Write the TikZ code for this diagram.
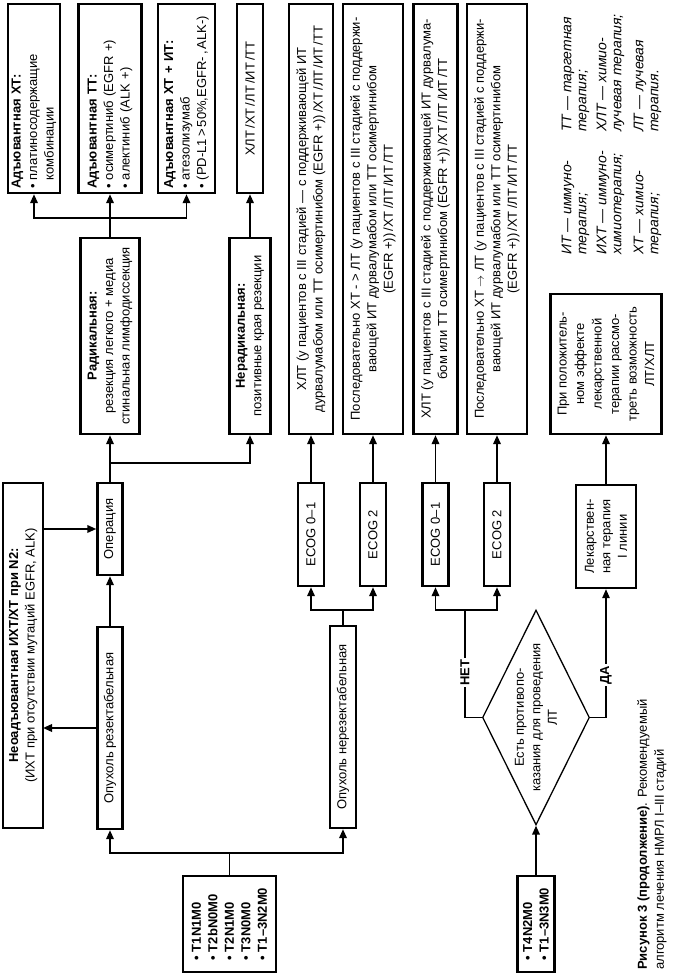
\documentclass[tikz,border=0pt]{standalone}
\usepackage{fontspec}
\setmainfont{Liberation Sans}
\usetikzlibrary{arrows.meta,shapes.geometric}
\newcommand\myfs{\fontsize{13}{16.5}\selectfont}
\newcommand\mysl{\,/}
\begin{document}
\begin{tikzpicture}[x=1pt,y=-1pt,rotate=90,transform shape,
  font=\myfs,
  box/.style={draw, line width=2.4pt, inner xsep=4pt, inner ysep=1pt, align=center},
  conn/.style={line width=1.9pt},
  arr/.style={line width=1.9pt, -{Triangle[length=9pt,width=7.5pt]}},
  thinl/.style={line width=1.3pt},
  thinarr/.style={line width=1.3pt, -{Triangle[length=9pt,width=7.5pt]}},
  lbl/.style={fill=white, inner sep=1.5pt, font=\myfs\bfseries},
  leg/.style={anchor=west, align=left, inner sep=0pt, font=\fontsize{14}{15}\selectfont\itshape},
]
\useasboundingbox (0,0) rectangle (974,672);

% adjuvant boxes
\node[box, minimum width=189pt, minimum height=52pt, text width=181pt, align=left] (a1) at (875.5,34)
 {\textbf{Адъювантная ХТ:}\\\textbullet\ платиносодержащие\\\phantom{\textbullet\ }комбинации};
\node[box, minimum width=189pt, minimum height=63pt, text width=181pt, align=left] (a2) at (875.5,110)
 {\textbf{Адъювантная ТТ:}\\\textbullet\ осимертиниб (EGFR +)\\\textbullet\ алектиниб (ALK +)};
\node[box, minimum width=189pt, minimum height=57pt, text width=181pt, align=left] (a3) at (875.5,186.5)
 {\textbf{Адъювантная ХТ + ИТ:}\\\textbullet\ атезолизумаб\\\mbox{\textbullet\ (PD-L1\,>\,50\%,EGFR-\,,\,ALK-)}};
\node[box, minimum width=189pt, minimum height=26pt] (x1) at (875.5,250) {ХЛТ\mysl ХТ\mysl ЛТ\mysl ИТ\mysl ТТ};

% surgery branch
\node[box, minimum width=196pt, minimum height=59pt] (rad) at (638,110)
 {\textbf{Радикальная:}\\резекция легкого + медиа\\стинальная лимфодиссекция};
\node[box, minimum width=196pt, minimum height=41pt] (nrad) at (638,250)
 {\textbf{Нерадикальная:}\\позитивные края резекции};
\node[box, minimum width=92pt, minimum height=25pt] (op) at (445,110) {Операция};
\node[box, minimum width=345pt, minimum height=40pt] (neo) at (318.5,23)
 {\textbf{Неоадъювантная ИХТ/ХТ при N2:}\\(ИХТ при отсутствии мутаций EGFR, ALK)};
\node[box, minimum width=202pt, minimum height=25pt] (res) at (246,110) {Опухоль резектабельная};
\node[box, minimum width=202pt, minimum height=26pt] (nres) at (247,343) {Опухоль нерезектабельная};
\node[box, minimum width=96pt, minimum height=93pt, align=left, font=\myfs\bfseries] (t1) at (50,229.5)
 {\textbullet\ T1N1M0\\\textbullet\ T2bN0M0\\\textbullet\ T2N1M0\\\textbullet\ T3N0M0\\\textbullet\ T1–3N2M0};
\node[box, minimum width=96pt, minimum height=37pt, align=left, font=\myfs\bfseries] (t2) at (50,536)
 {\textbullet\ T4N2M0\\\textbullet\ T1–3N3M0};

% ECOG boxes
\node[box, minimum width=103pt, minimum height=26pt] (e1) at (439.5,311) {ECOG 0–1};
\node[box, minimum width=103pt, minimum height=26pt] (e2) at (439.5,373) {ECOG 2};
\node[box, minimum width=103pt, minimum height=26pt] (e3) at (439.5,435.5) {ECOG 0–1};
\node[box, minimum width=103pt, minimum height=26pt] (e4) at (439.5,497) {ECOG 2};

% long treatment boxes
\node[box, minimum width=430pt, minimum height=44pt] (l1) at (755,311)
 {ХЛТ (у пациентов с III стадией — с поддерживающей ИТ\\дурвалумабом или ТТ осимертинибом (EGFR +))\mysl ХТ\mysl ЛТ\mysl ИТ\mysl ТТ};
\node[box, minimum width=430pt, minimum height=60pt] (l2) at (755,373)
 {Последовательно ХТ - > ЛТ (у пациентов с III стадией с поддержи-\\вающей ИТ дурвалумабом или ТТ осимертинибом\\(EGFR +))\mysl ХТ\mysl ЛТ\mysl ИТ\mysl ТТ};
\node[box, minimum width=430pt, minimum height=44pt] (l3) at (755,435.5)
 {ХЛТ (у пациентов с III стадией с поддерживающей ИТ дурвалума-\\бом или ТТ осимертинибом (EGFR +))\mysl ХТ\mysl ЛТ\mysl ИТ\mysl ТТ};
\node[box, minimum width=430pt, minimum height=60pt] (l4) at (755,497)
 {Последовательно ХТ $\rightarrow$ ЛТ (у пациентов с III стадией с поддержи-\\вающей ИТ дурвалумабом или ТТ осимертинибом\\(EGFR +))\mysl ХТ\mysl ЛТ\mysl ИТ\mysl ТТ};

% drug therapy branch
\node[box, minimum width=103pt, minimum height=60pt] (lek) at (437.5,606) {Лекарствен-\\ная терапия\\I линии};
\node[box, minimum width=140pt, minimum height=111pt, font=\fontsize{13}{17.5}\selectfont] (pri) at (610,606)
 {При положитель-\\ном эффекте\\лекарственной\\терапии рассмо-\\треть возможность\\ЛТ/ХЛТ};
\node[draw, diamond, line width=1.3pt, minimum width=215pt, minimum height=107pt, inner sep=0pt] (dia) at (256.5,536) {};
\node[align=center, inner sep=0pt] (diat) at (dia.center) {Есть противопо-\\казания для проведения\\ЛТ};

% connectors
\coordinate (jt) at (121,229.5);
\draw[conn] (t1.east) -- (jt);
\draw[arr] (jt) -- (121,110) -- (res.west);
\draw[arr] (jt) -- (121,343) -- (nres.west);
\draw[arr] (res.east) -- (op.west);
\coordinate (nb) at (246,43);
\draw[arr] (res.north) -- (nb);
\coordinate (ns) at (445,43);
\draw[arr] (ns) -- (op.north);
\coordinate (jo) at (511,110);
\draw[conn] (op.east) -- (jo);
\draw[arr] (jo) -- (rad.west);
\draw[arr] (jo) -- (511,250) -- (nrad.west);
\coordinate (jr) at (756,110);
\draw[conn] (rad.east) -- (jr);
\draw[arr] (jr) -- (a2.west);
\draw[arr] (jr) -- (756,34) -- (a1.west);
\draw[arr] (jr) -- (756,186.5) -- (a3.west);
\draw[arr] (nrad.east) -- (x1.west);
\coordinate (jn) at (364,343);
\draw[conn] (nres.east) -- (jn);
\draw[arr] (jn) -- (364,311) -- (e1.west);
\draw[arr] (jn) -- (364,373) -- (e2.west);
\draw[arr] (e1.east) -- (l1.west);
\draw[arr] (e2.east) -- (l2.west);
\draw[arr] (e3.east) -- (l3.west);
\draw[arr] (e4.east) -- (l4.west);
\draw[arr] (t2.east) -- (dia.west);
\coordinate (jd) at (364,465);
\draw[thinl] (dia.north) -- (256.5,465) -- (jd);
\draw[arr] (jd) -- (364,435.5) -- (e3.west);
\draw[arr] (jd) -- (364,497) -- (e4.west);
\node[lbl] (net) at (301,465) {НЕТ};
\draw[thinarr] (dia.south) -- (256.5,606) -- (lek.west);
\node[lbl] (da) at (299,606) {ДА};
\draw[arr] (lek.east) -- (pri.west);

% legend
\node[leg] (lg1) at (719,575.5) {ИТ — иммуно-\\терапия;};
\node[leg] (lg2) at (719,610.5) {ИХТ — иммуно-\\химиотерапия;};
\node[leg] (lg3) at (719,647.5) {ХТ — химио-\\терапия;};
\node[leg] (lg4) at (842,575.5) {ТТ — таргетная\\терапия;};
\node[leg] (lg5) at (842,610.5) {ХЛТ — химио-\\лучевая терапия;};
\node[leg] (lg6) at (842,647.5) {ЛТ — лучевая\\терапия.};

% caption
\node[anchor=west, align=left, inner sep=0pt, font=\fontsize{13}{17}\selectfont] (cap) at (4,652)
 {\textbf{Рисунок 3 (продолжение)}. Рекомендуемый\\алгоритм лечения НМРЛ I–III стадий};
\end{tikzpicture}
\end{document}
